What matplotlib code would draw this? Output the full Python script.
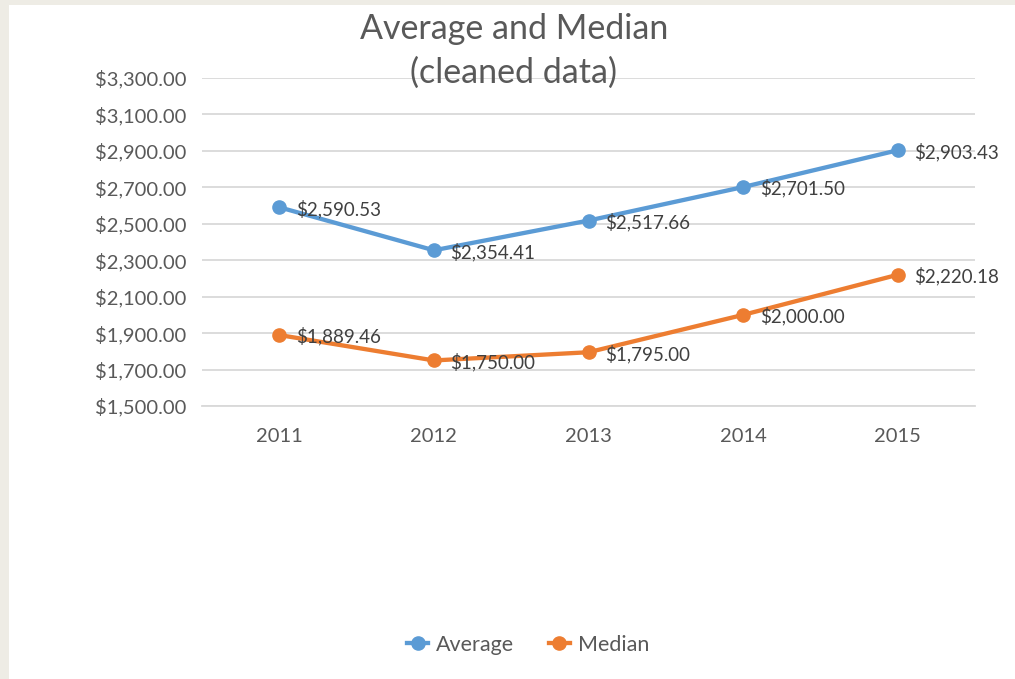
import matplotlib.pyplot as plt
from matplotlib.patches import Rectangle

years = ['2011', '2012', '2013', '2014', '2015']
average = [2590.53, 2354.41, 2517.66, 2701.50, 2903.43]
median = [1889.46, 1750.00, 1795.00, 2000.00, 2220.18]
yticks = [1500, 1700, 1900, 2100, 2300, 2500, 2700, 2900, 3100, 3300]

blue = '#5B9BD5'
orange = '#ED7D31'
grey = '#595959'

plt.rcParams['font.family'] = ['Lato', 'DejaVu Sans']

fig = plt.figure(figsize=(10.15, 6.79), dpi=100)
fig.patch.set_facecolor('#EEECE5')
# white chart area (beige strip shows on left and top)
fig.patches.append(Rectangle((9/1015, 0), 1 - 9/1015, 1 - 5/679,
                             transform=fig.transFigure, facecolor='white',
                             edgecolor='none', zorder=-5))

ax = fig.add_axes([202/1015, (679-406)/679, (975-202)/1015, (406-78)/679])
ax.set_facecolor('none')
ax.set_zorder(2)

x = list(range(len(years)))
ax.plot(x, average, color=blue, lw=3.1, marker='o', ms=9.5, label='Average', zorder=3)
ax.plot(x, median, color=orange, lw=3.1, marker='o', ms=9.5, label='Median', zorder=3)

for xi, v in zip(x, average):
    ax.annotate(f'${v:,.2f}', (xi, v), xytext=(12, -1), textcoords='offset points',
                ha='left', va='center', fontsize=13.5, color='#404040', zorder=4)
for xi, v in zip(x, median):
    ax.annotate(f'${v:,.2f}', (xi, v), xytext=(12, -1), textcoords='offset points',
                ha='left', va='center', fontsize=13.5, color='#404040', zorder=4)

ax.set_xlim(-0.5, 4.5)
ax.set_ylim(1500, 3300)
ax.set_xticks(x)
ax.set_xticklabels(years)
ax.set_yticks(yticks)
ax.set_yticklabels([f'${t:,.2f}' for t in yticks])
ax.tick_params(length=0, labelsize=14.5, colors=grey)
ax.tick_params(axis='x', pad=16)
ax.tick_params(axis='y', pad=11)
ax.yaxis.grid(True, color='#D9D9D9', lw=1.3)
ax.set_axisbelow(True)
for s in ['top', 'right', 'left']:
    ax.spines[s].set_visible(False)
ax.spines['bottom'].set_color('#D9D9D9')
ax.spines['bottom'].set_linewidth(1.3)

fig.text(514/1015, 1 - 51/679, 'Average and Median\n(cleaned data)', ha='center',
         va='center', fontsize=24.5, color=grey, linespacing=1.45)

leg = fig.legend(loc='center', bbox_to_anchor=(528/1015, 1 - 645/679), ncol=2,
                 frameon=False, fontsize=15.5, handlelength=1.0, columnspacing=1.6,
                 handletextpad=0.35)
for t in leg.get_texts():
    t.set_color(grey)

fig.savefig('out.png', dpi=100)
